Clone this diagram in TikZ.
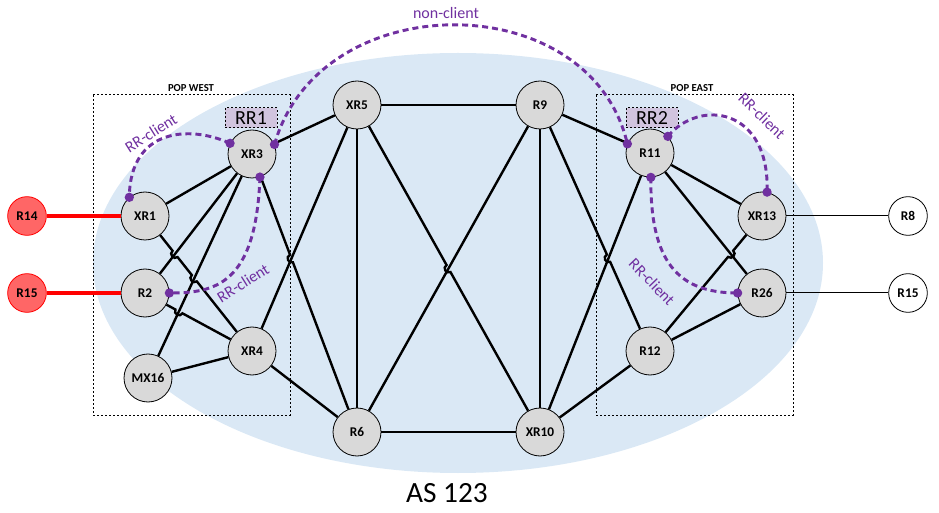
\documentclass[tikz,border=0pt]{standalone}
\usepackage{fontspec}
\setmainfont{Carlito}
\usetikzlibrary{calc}
\definecolor{asblue}{RGB}{218,232,245}
\definecolor{rrpurple}{RGB}{112,48,160}
\definecolor{rrbox}{RGB}{209,196,222}
\definecolor{routergrey}{RGB}{217,217,217}
\definecolor{extred}{RGB}{255,102,102}
\begin{document}
\begin{tikzpicture}[x=0.75pt,y=0.75pt,yscale=-1,xscale=1,
  router/.style={circle,draw=black,line width=0.6pt,fill=routergrey,minimum size=36pt,inner sep=0pt,font=\fontsize{10}{12}\selectfont\bfseries},
  extrouter/.style={circle,draw=red,line width=0.6pt,fill=extred,minimum size=29pt,inner sep=0pt,font=\fontsize{10}{12}\selectfont\bfseries},
  peerrouter/.style={circle,draw=black,line width=0.6pt,fill=white,minimum size=29pt,inner sep=0pt,font=\fontsize{10}{12}\selectfont\bfseries},
  link/.style={line width=1.8pt},
  extlink/.style={line width=3pt,red},
  peerlink/.style={line width=0.75pt},
  popbox/.style={draw,line width=0.75pt,dash pattern={on 1.5pt off 1.5pt}},
  poplabel/.style={font=\fontsize{8}{9}\selectfont\bfseries},
  rrlabel/.style={draw,dash pattern={on 1.5pt off 1.5pt},line width=0.75pt,fill=rrbox,minimum width=39pt,minimum height=15pt,inner sep=0pt,font=\fontsize{15}{16}\selectfont},
  session/.style={rrpurple,line width=2.2pt,dash pattern={on 4.5pt off 3pt}},
  sessiontext/.style={text=rrpurple,font=\fontsize{12}{14}\selectfont},
  hop/.style={bend left=90,looseness=1.6}]
\path[use as bounding box] (0,0) rectangle (939,513);

%Shape: Ellipse AS
\fill[asblue] (458,263) ellipse [x radius=273.75pt, y radius=157.5pt];

%Shape: Rectangle POP WEST / POP EAST
\draw[popbox] (93,95) rectangle (290,415);
\draw[popbox] (596,95) rectangle (793,415);
\node[poplabel] (popwest) at (191,88) {POP WEST};
\node[poplabel] (popeast) at (692,88) {POP EAST};

% Route reflector labels
\node[rrlabel] (rr1) at (251,118) {RR1};
\node[rrlabel] (rr2) at (652,118) {RR2};

% Routers
\node[router] (xr3) at (252,154) {XR3};
\node[router] (xr1) at (145,216) {XR1};
\node[router] (r2) at (145,293) {R2};
\node[router] (mx16) at (148,378) {MX16};
\node[router] (xr4) at (252,351) {XR4};
\node[router] (xr5) at (357,105) {XR5};
\node[router] (r9) at (540,105) {R9};
\node[router] (r6) at (357,432) {R6};
\node[router] (xr10) at (540,432) {XR10};
\node[router] (r11) at (650,153) {R11};
\node[router] (xr13) at (762,216) {XR13};
\node[router] (r26) at (762,293) {R26};
\node[router] (r12) at (650,351) {R12};
\node[extrouter] (r14) at (27,216) {R14};
\node[extrouter] (r15w) at (27,293) {R15};
\node[peerrouter] (r8) at (908,216) {R8};
\node[peerrouter] (r15e) at (908,293) {R15};

% External links
\draw[extlink] (r14) -- (xr1);
\draw[extlink] (r15w) -- (r2);
\draw[peerlink] (xr13) -- (r8);
\draw[peerlink] (r26) -- (r15e);

% Internal links
\draw[link] (xr1) -- (xr3);
\draw[link] (r2) -- (xr3);
\draw[link] (mx16) -- (xr3);
\draw[link] (mx16) -- (xr4);
\draw[link] (xr3) -- (xr5);
\draw[link] (xr4) -- (xr5);
\draw[link] (xr4) -- (r6);
\draw[link] (xr5) -- (r9);
\draw[link] (xr5) -- (r6);
\draw[link] (r9) -- (r6);
\draw[link] (r9) -- (xr10);
\draw[link] (r9) -- (r11);
\draw[link] (r6) -- (xr10);
\draw[link] (r11) -- (xr13);
\draw[link] (r11) -- (r26);
\draw[link] (r11) -- (xr10);
\draw[link] (r12) -- (r26);
\draw[link] (r12) -- (xr10);

% Links with line hops
\coordinate (h1) at (intersection of xr1--xr4 and r2--xr3);
\coordinate (h2) at (intersection of xr1--xr4 and mx16--xr3);
\coordinate (h3) at (intersection of r2--xr4 and mx16--xr3);
\coordinate (h4) at (intersection of xr3--r6 and xr4--xr5);
\coordinate (h5) at (intersection of xr5--xr10 and r9--r6);
\coordinate (h6) at (intersection of r9--r12 and r11--xr10);
\coordinate (h7) at (intersection of r12--xr13 and r11--r26);
\draw[link] (xr1) -- ($(h1)!3pt!(xr1)$) to[hop] ($(h1)!3pt!(xr4)$) -- ($(h2)!3pt!(xr1)$) to[hop] ($(h2)!3pt!(xr4)$) -- (xr4);
\draw[link] (r2) -- ($(h3)!3pt!(r2)$) to[hop] ($(h3)!3pt!(xr4)$) -- (xr4);
\draw[link] (xr3) -- ($(h4)!3pt!(xr3)$) to[hop] ($(h4)!3pt!(r6)$) -- (r6);
\draw[link] (xr5) -- ($(h5)!3pt!(xr5)$) to[hop] ($(h5)!3pt!(xr10)$) -- (xr10);
\draw[link] (r9) -- ($(h6)!3pt!(r9)$) to[hop] ($(h6)!3pt!(r12)$) -- (r12);
\draw[link] (r12) -- ($(h7)!3pt!(r12)$) to[hop] ($(h7)!3pt!(xr13)$) -- (xr13);

% BGP sessions
\draw[session] (xr3.23) .. controls (320,-15) and (590,-15) .. (r11.158);
\draw[session] (xr3.154) .. controls (190,125) and (130,128) .. (xr1.130);
\draw[session] (xr3.-71) .. controls (256,285) and (215,293) .. (r2.0);
\draw[session] (r11.43) .. controls (700,98) and (770,108) .. (xr13.78);
\draw[session] (r11.-88) .. controls (650,262) and (678,293) .. (r26.180);
\foreach \dot in {xr3.23,r11.158,xr3.154,xr1.130,xr3.-71,r2.0,r11.43,xr13.78,r11.-88,r26.180}
  \fill[rrpurple] (\dot) circle (3.5pt);

% Text Node
\node[sessiontext] (nonclient) at (446,13) {non-client};
\node[sessiontext,rotate=32] (clientxr1) at (151,133) {RR-client};
\node[sessiontext,rotate=32] (clientr2) at (243,283) {RR-client};
\node[sessiontext,rotate=-44] (clientxr13) at (762,116) {RR-client};
\node[sessiontext,rotate=-46] (clientr26) at (652,282) {RR-client};
\node[font=\fontsize{22}{26}\selectfont] (as) at (447,493) {AS 123};
\end{tikzpicture}
\end{document}
